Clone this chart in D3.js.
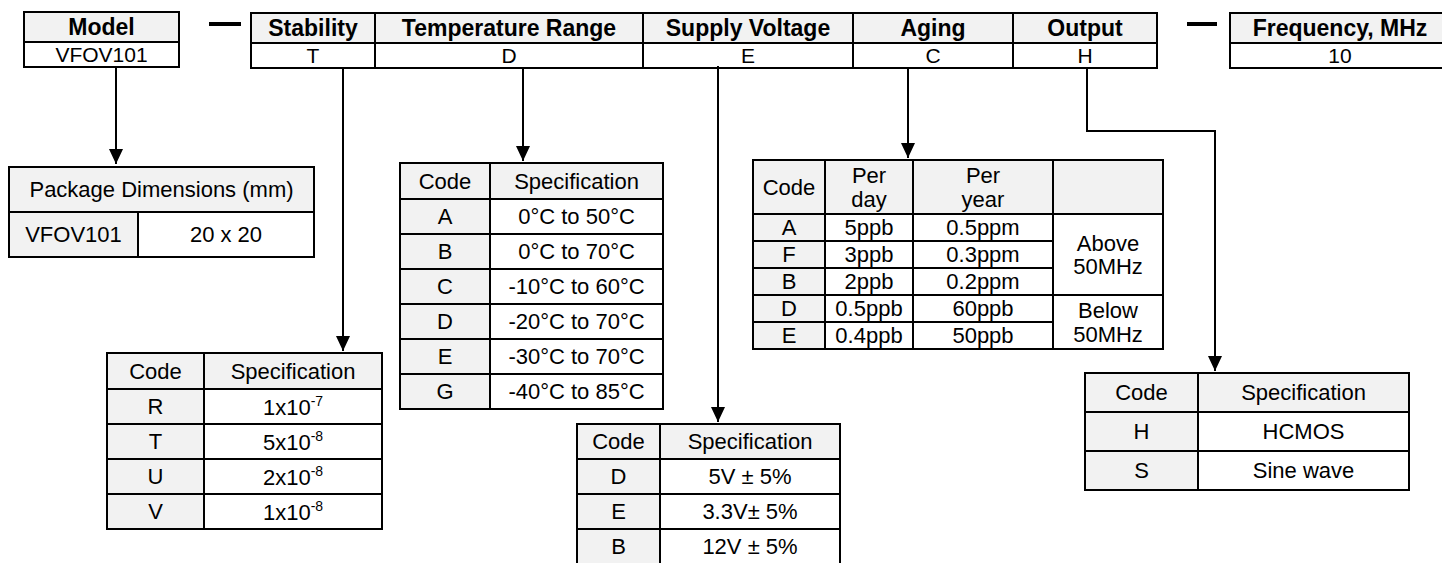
<!DOCTYPE html>
<meta charset="utf-8">
<script src="https://d3js.org/d3.v7.min.js"></script>
<style type="text/css">
body { margin: 0; background: #fff; }
text { font-family: "Liberation Sans", Arial, sans-serif; fill: #000; }
</style>
<body>
<script>

// ---- data ----
var modelName = "VFOV101";
var fieldNames = ["Stability", "Temperature Range", "Supply Voltage", "Aging", "Output"];
var fieldCodes = ["T", "D", "E", "C", "H"];
var frequencyLabel = "Frequency, MHz";
var frequencyValue = "10";

var packageTitle = "Package Dimensions (mm)";
var packageSize = "20 x 20";

var stabilityCodes = ["R", "T", "U", "V"];
var stabilityBase = ["1x10", "5x10", "2x10", "1x10"];
var stabilityExp = ["-7", "-8", "-8", "-8"];

var tempCodes = ["A", "B", "C", "D", "E", "G"];
var tempSpecs = ["0°C to 50°C", "0°C to 70°C", "-10°C to 60°C", "-20°C to 70°C", "-30°C to 70°C", "-40°C to 85°C"];

var voltageCodes = ["D", "E", "B"];
var voltageSpecs = ["5V ± 5%", "3.3V± 5%", "12V ± 5%"];

var agingCodes = ["A", "F", "B", "D", "E"];
var agingPerDay = ["5ppb", "3ppb", "2ppb", "0.5ppb", "0.4ppb"];
var agingPerYear = ["0.5ppm", "0.3ppm", "0.2ppm", "60ppb", "50ppb"];
var agingRanges = [["Above", "50MHz"], ["Below", "50MHz"]];
var agingRangeSpan = [3, 2];

var outputCodes = ["H", "S"];
var outputSpecs = ["HCMOS", "Sine wave"];

var gray = "#f2f2f2";

var svg = d3.select("body").append("svg")
    .attr("width", 1442)
    .attr("height", 563);

// one table cell: box + centered text lines
function cell(x0, x1, y0, y1, fill, lines, size, bold) {
    svg.append("rect")
        .attr("x", x0).attr("y", y0)
        .attr("width", x1 - x0).attr("height", y1 - y0)
        .style("fill", fill).style("stroke", "#000").style("stroke-width", 2);
    if (!lines) return;
    if (typeof lines === "string") lines = [lines];
    var lh = size * 1.08;
    var cy = (y0 + y1) / 2 - (lines.length - 1) * lh / 2;
    lines.forEach(function(l, i) {
        svg.append("text")
            .attr("x", (x0 + x1) / 2)
            .attr("y", cy + i * lh + size * 0.36)
            .style("text-anchor", "middle")
            .style("font-size", size + "px")
            .style("font-weight", bold ? "bold" : "normal")
            .text(l);
    });
}

function arrowLine(points) {
    svg.append("path")
        .attr("d", d3.line()(points))
        .style("fill", "none").style("stroke", "#000").style("stroke-width", 2);
    var tip = points[points.length - 1];
    svg.append("path")
        .attr("d", d3.line()([[tip[0] - 7, tip[1] - 15], [tip[0] + 7, tip[1] - 15], [tip[0], tip[1]]]) + "Z")
        .style("fill", "#000");
}

function dash(x0, x1) {
    svg.append("line").attr("x1", x0).attr("x2", x1).attr("y1", 24).attr("y2", 24)
        .style("stroke", "#000").style("stroke-width", 4);
}

// ---- top code strip ----
cell(24, 179, 12, 42, gray, "Model", 23, true);
cell(24, 179, 42, 67, "#fff", modelName, 21, false);

dash(209, 241);

var mainEdges = [251, 375, 643, 853, 1013, 1157];
fieldNames.forEach(function(f, i) {
    cell(mainEdges[i], mainEdges[i + 1], 13, 43, gray, f, 23, true);
    cell(mainEdges[i], mainEdges[i + 1], 43, 68, "#fff", fieldCodes[i], 21, false);
});

dash(1187, 1217);

cell(1230, 1450, 13, 43, gray, frequencyLabel, 23, true);
cell(1230, 1450, 43, 68, "#fff", frequencyValue, 21, false);

// ---- connectors ----
arrowLine([[116, 67], [116, 164]]);
arrowLine([[343, 68], [343, 351]]);
arrowLine([[523, 68], [523, 161]]);
arrowLine([[718, 66], [718, 422]]);
arrowLine([[908, 68], [908, 158]]);
arrowLine([[1087, 68], [1087, 131], [1215, 131], [1215, 371]]);

// ---- package table ----
cell(9, 314, 167, 212, gray, packageTitle, 22, false);
cell(9, 138, 212, 257, gray, modelName, 22, false);
cell(138, 314, 212, 257, "#fff", packageSize, 22, false);

// generic code / spec table
function codeTable(x0, xm, x1, top, headH, rowH, codes, specs) {
    var y = d3.scaleBand().domain(codes).range([top + headH, top + headH + rowH * codes.length]);
    cell(x0, xm, top, top + headH, gray, "Code", 22, false);
    cell(xm, x1, top, top + headH, gray, "Specification", 22, false);
    codes.forEach(function(c, i) {
        cell(x0, xm, y(c), y(c) + y.bandwidth(), gray, c, 22, false);
        cell(xm, x1, y(c), y(c) + y.bandwidth(), "#fff", specs ? specs[i] : null, 22, false);
    });
    return y;
}

// stability table, with superscript exponents
var ys = codeTable(107, 204, 382, 353, 36, 35, stabilityCodes, null);
stabilityCodes.forEach(function(c, i) {
    var t = svg.append("text")
        .attr("x", 293)
        .attr("y", ys(c) + ys.bandwidth() / 2 + 8)
        .style("text-anchor", "middle")
        .style("font-size", "22px");
    t.append("tspan").text(stabilityBase[i]);
    t.append("tspan").attr("dy", -9).style("font-size", "14px").text(stabilityExp[i]);
});

codeTable(400, 490, 663, 163, 36, 35, tempCodes, tempSpecs);
codeTable(577, 660, 840, 424, 35, 35, voltageCodes, voltageSpecs);
codeTable(1085, 1198, 1409, 373, 39, 39, outputCodes, outputSpecs);

// ---- aging table ----
var ag = [753, 825, 913, 1053, 1163];
var agTop = 160, agHead = 54;
var ya = d3.scaleBand().domain(agingCodes).range([agTop + agHead, agTop + agHead + 27 * agingCodes.length]);
cell(ag[0], ag[1], agTop, agTop + agHead, gray, "Code", 22, false);
cell(ag[1], ag[2], agTop, agTop + agHead, gray, ["Per", "day"], 22, false);
cell(ag[2], ag[3], agTop, agTop + agHead, gray, ["Per", "year"], 22, false);
cell(ag[3], ag[4], agTop, agTop + agHead, gray, null, 22, false);
agingCodes.forEach(function(c, i) {
    var y0 = ya(c), y1 = y0 + ya.bandwidth();
    cell(ag[0], ag[1], y0, y1, gray, c, 22, false);
    cell(ag[1], ag[2], y0, y1, "#fff", agingPerDay[i], 22, false);
    cell(ag[2], ag[3], y0, y1, "#fff", agingPerYear[i], 22, false);
});
var start = 0;
agingRanges.forEach(function(r, k) {
    var y0 = ya(agingCodes[start]);
    var y1 = ya(agingCodes[start + agingRangeSpan[k] - 1]) + ya.bandwidth();
    cell(ag[3], ag[4], y0, y1, "#fff", r, 22, false);
    start += agingRangeSpan[k];
});

</script>
</body>
</html>
